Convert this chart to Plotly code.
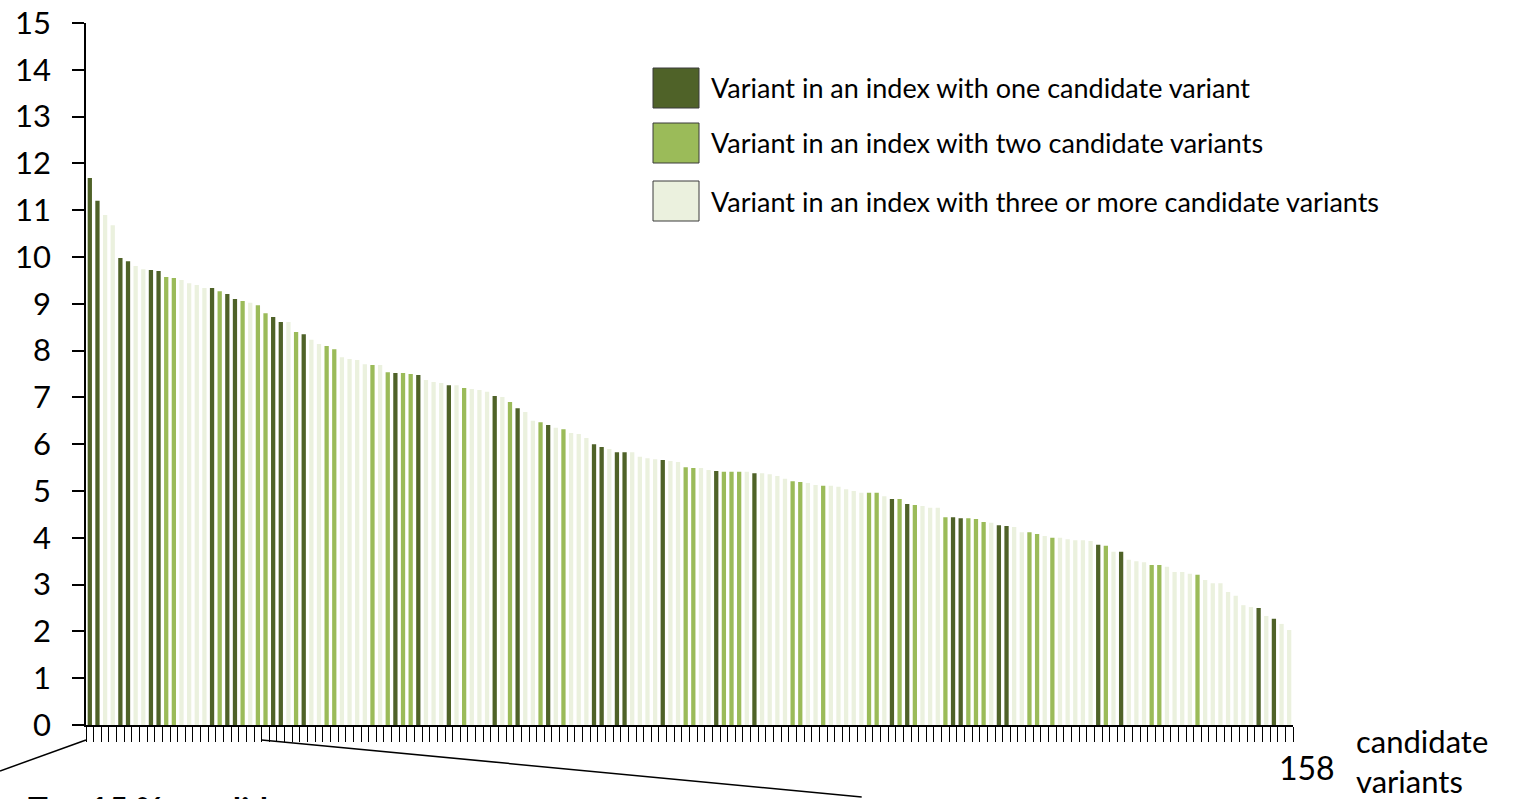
import plotly.graph_objects as go

# ---- data ----
values = [
    11.69, 11.20, 10.90, 10.68, 9.98, 9.91, 9.81, 9.74, 9.72, 9.70,
    9.57, 9.55, 9.51, 9.44, 9.40, 9.34, 9.34, 9.27, 9.21, 9.10,
    9.06, 9.02, 8.97, 8.80, 8.72, 8.61, 8.61, 8.40, 8.35, 8.23,
    8.14, 8.10, 8.03, 7.86, 7.82, 7.80, 7.71, 7.69, 7.69, 7.54,
    7.52, 7.52, 7.50, 7.48, 7.37, 7.33, 7.31, 7.26, 7.26, 7.20,
    7.18, 7.16, 7.12, 7.03, 7.01, 6.90, 6.77, 6.69, 6.50, 6.47,
    6.41, 6.35, 6.32, 6.24, 6.22, 6.13, 6.00, 5.94, 5.90, 5.83,
    5.83, 5.83, 5.73, 5.70, 5.68, 5.66, 5.64, 5.62, 5.51, 5.49,
    5.49, 5.45, 5.43, 5.41, 5.41, 5.41, 5.41, 5.38, 5.38, 5.36,
    5.32, 5.26, 5.21, 5.19, 5.17, 5.13, 5.11, 5.11, 5.09, 5.04,
    5.00, 4.96, 4.96, 4.96, 4.89, 4.83, 4.83, 4.72, 4.70, 4.68,
    4.64, 4.64, 4.44, 4.44, 4.42, 4.42, 4.40, 4.34, 4.32, 4.27,
    4.25, 4.23, 4.12, 4.12, 4.08, 4.04, 4.00, 4.00, 3.97, 3.95,
    3.95, 3.93, 3.85, 3.83, 3.70, 3.70, 3.53, 3.50, 3.48, 3.42,
    3.42, 3.38, 3.27, 3.27, 3.23, 3.21, 3.10, 3.03, 3.03, 2.84,
    2.76, 2.56, 2.52, 2.50, 2.33, 2.27, 2.16, 2.03,
]
# number of candidate variants in the index: 1 = one, 2 = two, 3 = three or more
groups = [
    1, 1, 3, 3, 1, 1, 3, 3, 1, 1,
    2, 2, 3, 3, 3, 3, 1, 2, 1, 1,
    2, 3, 2, 2, 1, 1, 3, 2, 1, 3,
    3, 2, 2, 3, 3, 3, 3, 2, 3, 2,
    1, 2, 2, 1, 3, 3, 3, 1, 3, 2,
    3, 3, 3, 1, 3, 2, 1, 3, 3, 2,
    1, 3, 2, 3, 3, 3, 1, 1, 3, 1,
    1, 3, 3, 3, 3, 1, 3, 3, 2, 2,
    3, 3, 1, 2, 2, 2, 3, 1, 3, 3,
    3, 3, 2, 2, 3, 3, 2, 3, 3, 3,
    3, 3, 2, 2, 3, 1, 2, 1, 2, 3,
    3, 3, 2, 1, 1, 2, 2, 2, 3, 1,
    1, 3, 3, 2, 2, 3, 2, 3, 3, 3,
    3, 3, 1, 2, 3, 1, 3, 3, 3, 2,
    2, 3, 3, 3, 3, 2, 3, 3, 3, 3,
    3, 3, 3, 1, 3, 1, 3, 3,
]
group_labels = [
    "Variant in an index with one candidate variant",
    "Variant in an index with two candidate variants",
    "Variant in an index with three or more candidate variants",
]
categories = [str(i) for i in range(1, len(values) + 1)]
n_total = len(values)
top_share = 0.15
top_n = round(n_total * top_share)

colors = {1: "#4F6228", 2: "#9BBB59", 3: "#EBF1DE"}

W, H = 1513, 799
L, R, T, B = 86, 220, 23, 74
PW, PH = W - L - R, H - T - B
FONT = "Lato, 'Open Sans', sans-serif"


def px(x):
    return (x - L) / PW


def py(y):
    return (H - B - y) / PH


fig = go.Figure()
fig.add_trace(go.Bar(
    x=categories, y=values,
    marker=dict(color=[colors[g] for g in groups], line=dict(width=0)),
    showlegend=False,
))

shapes = []
annotations = []
# legend boxes
box_tops = [68, 123, 181]
for g, top in zip([1, 2, 3], box_tops):
    shapes.append(dict(type="rect", xref="paper", yref="paper",
                       x0=px(653), x1=px(699), y0=py(top), y1=py(top + 40),
                       fillcolor=colors[g], line=dict(color="#3a3a3a", width=1)))
    annotations.append(dict(xref="paper", yref="paper", x=px(709), y=py(top + 20),
                            xanchor="left", yanchor="middle", showarrow=False,
                            text=group_labels[g - 1],
                            font=dict(family=FONT, size=27, color="black")))

# callout lines toward "Top 15 % candidates"
bar_px = PW / n_total
x_cut = L + (top_n - 1) * bar_px
shapes.append(dict(type="line", xref="paper", yref="paper",
                   x0=px(L), y0=py(740), x1=px(0), y1=py(771),
                   line=dict(color="black", width=1.5)))
shapes.append(dict(type="line", xref="paper", yref="paper",
                   x0=px(x_cut), y0=py(740), x1=px(x_cut + 600), y1=py(797),
                   line=dict(color="black", width=1.5)))

annotations.append(dict(xref="paper", yref="paper", x=px(26), y=py(808),
                        xanchor="left", yanchor="middle", showarrow=False,
                        text="<b>Top 15 % candidates</b>",
                        font=dict(family=FONT, size=33, color="black")))
annotations.append(dict(xref="paper", yref="paper", x=px(1307), y=py(767),
                        xanchor="center", yanchor="middle", showarrow=False,
                        text=str(n_total),
                        font=dict(family=FONT, size=32, color="black")))
annotations.append(dict(xref="paper", yref="paper", x=px(1354), y=py(761),
                        xanchor="left", yanchor="middle", showarrow=False,
                        text="candidate<br>variants", align="left",
                        font=dict(family=FONT, size=31, color="black")))

fig.update_layout(
    width=W, height=H,
    margin=dict(l=L, r=R, t=T, b=B, pad=0, autoexpand=False),
    paper_bgcolor="white", plot_bgcolor="white",
    bargap=0.44,
    showlegend=False,
    shapes=shapes,
    annotations=annotations,
    xaxis=dict(type="category", range=[-0.5, n_total - 0.5], automargin=False,
               tickmode="array", tickvals=categories, ticktext=[""] * n_total,
               tickson="boundaries", ticks="outside", ticklen=15, tickwidth=1,
               tickcolor="black", showline=True, linecolor="black", linewidth=1.5,
               showgrid=False, zeroline=False, showticklabels=False, fixedrange=True),
    yaxis=dict(range=[0, 15], dtick=1, tick0=0, ticks="outside", ticklen=12, tickwidth=1.5,
               automargin=False,
               tickcolor="black", showline=True, linecolor="black", linewidth=1.5,
               showgrid=False, zeroline=False, ticklabelstandoff=15,
               tickfont=dict(family=FONT, size=31, color="black")),
)

fig.write_html("out.html")
